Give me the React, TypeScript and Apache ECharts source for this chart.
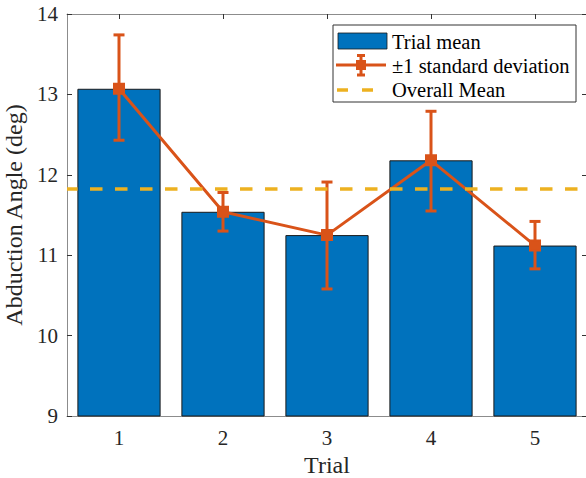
import React, { useEffect, useRef } from "react";
import * as echarts from "echarts";

const trials = ["1", "2", "3", "4", "5"];
const trialMeans = [13.07, 11.54, 11.25, 12.18, 11.12];
const stdLow = [12.43, 11.3, 10.58, 11.55, 10.83];
const stdHigh = [13.74, 11.78, 11.91, 12.79, 11.42];
const overallMean = 11.83;
const yMin = 9;
const yMax = 14;

const BLUE = "#0072BD";
const ORANGE = "#D95319";
const YELLOW = "#EDB120";
const FONT = "'Liberation Serif', 'Times New Roman', serif";

export default function App() {
  const ref = useRef<HTMLDivElement>(null);
  useEffect(() => {
    if (!ref.current) return;
    const chart = echarts.init(ref.current, null, { renderer: "svg" });
    const errData = trials.map((_, i) => [i, stdLow[i], stdHigh[i], trialMeans[i]]);
    const axisLine = { show: true, lineStyle: { color: "#8c8c8c", width: 1 } };
    const tick = { show: true, inside: true, length: 5, lineStyle: { color: "#333" } };
    const option: any = {
      animation: false,
      backgroundColor: "#fff",
      grid: { left: 67, right: -1, top: 14, bottom: 62, containLabel: false, outerBoundsMode: "none" },
      xAxis: [
        {
          type: "category",
          data: trials,
          position: "bottom",
          axisLine,
          axisTick: { ...tick, alignWithLabel: true },
          axisLabel: { color: "#262626", fontFamily: FONT, fontSize: 21, margin: 11 },
          name: "Trial",
          nameLocation: "middle",
          nameGap: 37,
          nameTextStyle: { color: "#262626", fontFamily: FONT, fontSize: 24 },
          splitLine: { show: false },
        },
        {
          type: "category",
          data: trials,
          position: "top",
          axisLine,
          axisTick: { ...tick, alignWithLabel: true },
          axisLabel: { show: false },
          splitLine: { show: false },
        },
      ],
      yAxis: [
        {
          type: "value",
          min: yMin,
          max: yMax,
          interval: 1,
          position: "left",
          axisLine,
          axisTick: tick,
          axisLabel: { color: "#262626", fontFamily: FONT, fontSize: 21, margin: 9 },
          splitLine: { show: false },
          name: "Abduction Angle (deg)",
          nameLocation: "middle",
          nameGap: 40,
          nameTextStyle: { color: "#262626", fontFamily: FONT, fontSize: 24 },
        },
        {
          type: "value",
          min: yMin,
          max: yMax,
          interval: 1,
          position: "right",
          axisLine,
          axisTick: tick,
          axisLabel: { show: false },
          splitLine: { show: false },
        },
      ],
      series: [
        {
          type: "bar",
          data: trialMeans,
          barWidth: "80%",
          itemStyle: { color: BLUE, borderColor: "#1a1a1a", borderWidth: 1 },
          markLine: {
            silent: true,
            symbol: "none",
            label: { show: false },
            lineStyle: { color: YELLOW, width: 3.5, type: [12.5, 12.5], dashOffset: 2 },
            data: [{ yAxis: overallMean }],
          },
          z: 1,
        },
        {
          type: "line",
          data: trialMeans,
          symbol: "none",
          lineStyle: { color: ORANGE, width: 3 },
          z: 3,
        },
        {
          type: "custom",
          data: errData,
          z: 4,
          renderItem: (params: any, api: any) => {
            const i = api.value(0);
            const lo = api.coord([i, api.value(1)]);
            const hi = api.coord([i, api.value(2)]);
            const mid = api.coord([i, api.value(3)]);
            const cap = 5.5;
            const st = { stroke: ORANGE, lineWidth: 3, fill: "none" };
            return {
              type: "group",
              children: [
                { type: "line", shape: { x1: lo[0], y1: lo[1], x2: hi[0], y2: hi[1] }, style: st },
                { type: "line", shape: { x1: lo[0] - cap, y1: lo[1], x2: lo[0] + cap, y2: lo[1] }, style: st },
                { type: "line", shape: { x1: hi[0] - cap, y1: hi[1], x2: hi[0] + cap, y2: hi[1] }, style: st },
                { type: "rect", shape: { x: mid[0] - 5, y: mid[1] - 5, width: 10, height: 10 }, style: { stroke: ORANGE, lineWidth: 2, fill: ORANGE } },
              ],
            };
          },
        },
      ],
      graphic: [
        {
          type: "group",
          z: 100,
          children: [
            { type: "rect", shape: { x: 333, y: 25, width: 243, height: 77 }, style: { fill: "#fff", stroke: "#333", lineWidth: 1 } },
            { type: "rect", shape: { x: 338, y: 33, width: 49, height: 16 }, style: { fill: BLUE, stroke: "#1a1a1a", lineWidth: 0.8 } },
            { type: "text", x: 392, y: 41.5, style: { text: "Trial mean", fill: "#000", font: `20.5px ${FONT}`, verticalAlign: "middle" } },
            { type: "line", shape: { x1: 336, y1: 65, x2: 386, y2: 65 }, style: { stroke: ORANGE, lineWidth: 3 } },
            { type: "line", shape: { x1: 361, y1: 55.5, x2: 361, y2: 75 }, style: { stroke: ORANGE, lineWidth: 3 } },
            { type: "line", shape: { x1: 357, y1: 55.5, x2: 365, y2: 55.5 }, style: { stroke: ORANGE, lineWidth: 3 } },
            { type: "line", shape: { x1: 357, y1: 75, x2: 365, y2: 75 }, style: { stroke: ORANGE, lineWidth: 3 } },
            { type: "rect", shape: { x: 357, y: 61, width: 8, height: 8 }, style: { fill: ORANGE, stroke: ORANGE, lineWidth: 2 } },
            { type: "text", x: 392, y: 66, style: { text: "\u00b11 standard deviation", fill: "#000", font: `20.5px ${FONT}`, verticalAlign: "middle" } },
            { type: "line", shape: { x1: 337, y1: 90, x2: 375, y2: 90 }, style: { stroke: YELLOW, lineWidth: 3.5, lineDash: [11, 14] } },
            { type: "text", x: 392, y: 90, style: { text: "Overall Mean", fill: "#000", font: `20.5px ${FONT}`, verticalAlign: "middle" } },
          ],
        },
      ],
    };
    chart.setOption(option);
    return () => chart.dispose();
  }, []);
  return (
    <div
      ref={ref}
      style={{ position: "fixed", left: 0, top: 0, width: 586, height: 478, background: "#fff" }}
    />
  );
}
